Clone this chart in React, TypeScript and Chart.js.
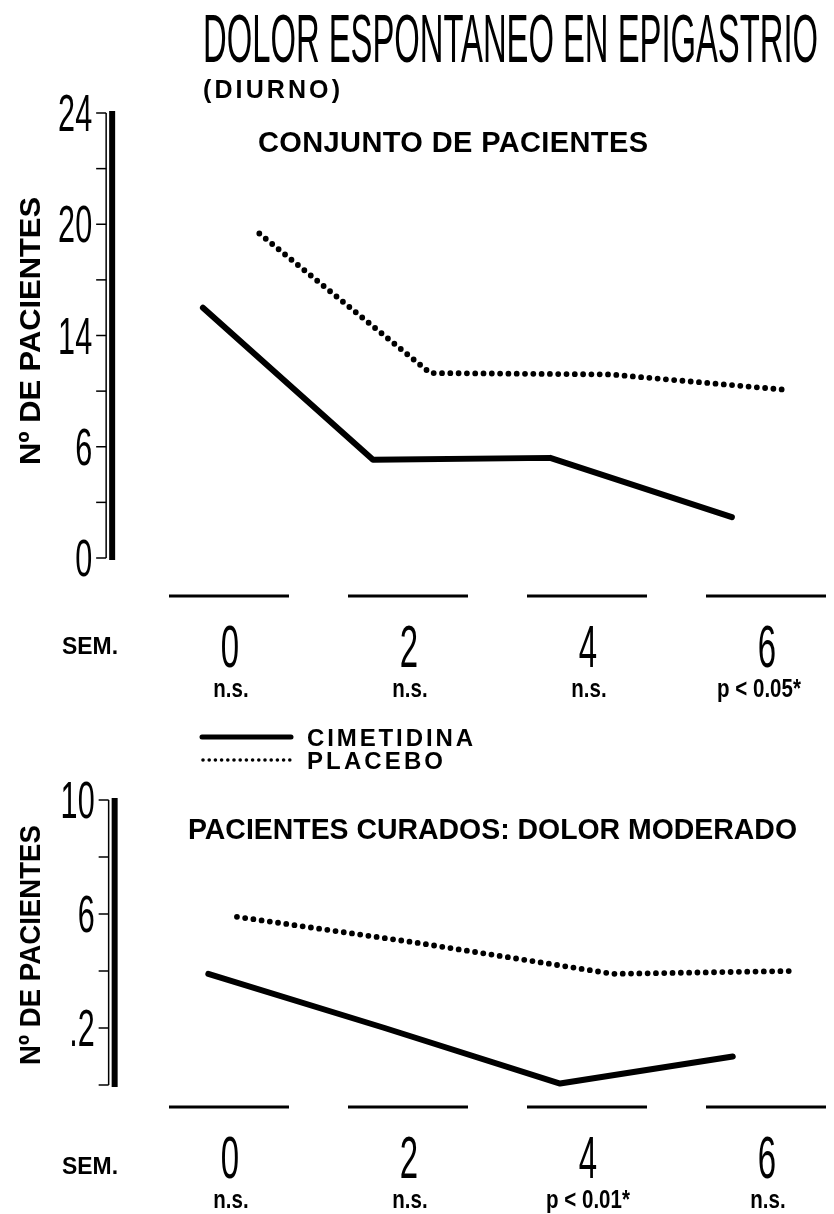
import { useEffect, useRef } from 'react';
import { Chart, registerables } from 'chart.js';

Chart.register(...registerables);

// ---------- data ----------
const WEEKS = [0, 2, 4, 6];
const WEEK_LABELS = ['0', '2', '4', '6'];
const TOP_SIGNIF = ['n.s.', 'n.s.', 'n.s.', 'p < 0.05*'];
const BOTTOM_SIGNIF = ['n.s.', 'n.s.', 'p < 0.01*', 'n.s.'];

// top panel: printed y labels (non-uniform), placed on every second tick
const TOP_Y_LABEL_VALUES = [0, 6, 14, 20, 24];
// bottom panel: tick values and the labels printed on some of them
const BOTTOM_Y_TICKS = [0, 2, 4, 6, 8, 10];
const BOTTOM_Y_LABEL_VALUES = [2, 6, 10];
const BOTTOM_Y_LABELS = ['.2', '6', '10'];

// Conjunto de pacientes (x = plotted week position, y = nº de pacientes)
const TOP_CIMETIDINA_X = [-0.28, 1.62, 3.6, 5.63];
const TOP_CIMETIDINA = [15.5, 5.3, 5.4, 2.2];
const TOP_PLACEBO_X = [0.35, 2.26, 4.27, 6.22];
const TOP_PLACEBO = [19.5, 11.3, 11.2, 10.1];

// Pacientes curados: dolor moderado
const BOTTOM_CIMETIDINA_X = [-0.22, 1.75, 3.71, 5.64];
const BOTTOM_CIMETIDINA = [3.9, 2.0, 0.05, 1.0];
const BOTTOM_PLACEBO_X = [0.1, 2.09, 4.3, 6.31];
const BOTTOM_PLACEBO = [5.9, 5.0, 3.9, 4.0];

const SERIES_NAMES = ['CIMETIDINA', 'PLACEBO'];

// ---------- helpers ----------
const FAMILY = '"Liberation Sans", Arial, "DejaVu Sans", sans-serif';

function topPos(v: number): number {
  const vals = TOP_Y_LABEL_VALUES;
  for (let i = 0; i < vals.length - 1; i++) {
    if (v <= vals[i + 1]) {
      return 2 * i + (2 * (v - vals[i])) / (vals[i + 1] - vals[i]);
    }
  }
  return 2 * (vals.length - 1);
}

type TxtOpt = {
  size: number;
  weight?: string;
  width?: number;
  sx?: number;
  align?: 'left' | 'center' | 'right';
  spacing?: boolean;
};

function drawText(ctx: CanvasRenderingContext2D, text: string, x: number, baseline: number, o: TxtOpt) {
  ctx.save();
  ctx.font = `${o.weight || 'normal'} ${o.size}px ${FAMILY}`;
  ctx.textAlign = 'left';
  ctx.textBaseline = 'alphabetic';
  ctx.fillStyle = '#000';
  const w = ctx.measureText(text).width;
  let sx = o.sx ?? 1;
  let sp = 0;
  if (o.width) {
    if (o.spacing && o.width > w && text.length > 1) sp = (o.width - w) / (text.length - 1);
    else sx = o.width / w;
  }
  const drawn = w * sx + sp * (text.length - 1);
  let left = x;
  if (o.align === 'center') left = x - drawn / 2;
  else if (o.align === 'right') left = x - drawn;
  if (sp) {
    (ctx as any).letterSpacing = `${sp}px`;
  }
  ctx.translate(left, baseline);
  ctx.scale(sx, 1);
  ctx.fillText(text, 0, 0);
  ctx.restore();
}

function drawDotted(ctx: CanvasRenderingContext2D, x1: number, x2: number, y: number, width: number, gap: number) {
  ctx.save();
  ctx.strokeStyle = '#000';
  ctx.lineWidth = width;
  ctx.lineCap = 'round';
  ctx.setLineDash([0, gap]);
  ctx.beginPath();
  ctx.moveTo(x1, y);
  ctx.lineTo(x2, y);
  ctx.stroke();
  ctx.restore();
}

type PanelCfg = {
  axisDx: number;
  tickPositions: number[];
  labelPositions: number[];
  labels: string[];
  yTitleCenter: number;
  yTitleLength: number;
  segY: number;
  weekBaseline: number;
  semBaseline: number;
  signifBaseline: number;
  signif: string[];
  signifDx: number[];
  extra: (ctx: CanvasRenderingContext2D) => void;
};

function panelPlugin(cfg: PanelCfg) {
  return {
    id: 'panelDecor',
    afterDraw(chart: any) {
      const ctx: CanvasRenderingContext2D = chart.ctx;
      const xs = chart.scales.x;
      const ys = chart.scales.y;
      const axX = chart.chartArea.left + cfg.axisDx;
      const yTop = ys.getPixelForValue(ys.max);
      const yBot = ys.getPixelForValue(ys.min);
      ctx.save();
      ctx.strokeStyle = '#000';
      ctx.lineCap = 'butt';
      // thick axis bar
      ctx.lineWidth = 6;
      ctx.beginPath();
      ctx.moveTo(axX, yTop - 2);
      ctx.lineTo(axX, yBot + 2);
      ctx.stroke();
      // thin companion line
      ctx.lineWidth = 1.5;
      ctx.beginPath();
      ctx.moveTo(axX - 6, yTop);
      ctx.lineTo(axX - 6, yBot);
      ctx.stroke();
      // ticks
      ctx.lineWidth = 1.5;
      for (const p of cfg.tickPositions) {
        const py = ys.getPixelForValue(p);
        ctx.beginPath();
        ctx.moveTo(axX - 16, py);
        ctx.lineTo(axX - 6, py);
        ctx.stroke();
      }
      // baseline segments under each week
      ctx.lineWidth = 3;
      for (const w of WEEKS) {
        const px = xs.getPixelForValue(w);
        ctx.beginPath();
        ctx.moveTo(px - 59, cfg.segY);
        ctx.lineTo(px + 61, cfg.segY);
        ctx.stroke();
      }
      ctx.restore();

      // y tick labels (condensed)
      cfg.labelPositions.forEach((p, i) => {
        const py = ys.getPixelForValue(p);
        drawText(ctx, cfg.labels[i], axX - 20, py + 18, { size: 51, sx: 0.6, align: 'right' });
      });

      // y title
      ctx.save();
      ctx.translate(29, cfg.yTitleCenter);
      ctx.rotate(-Math.PI / 2);
      drawText(ctx, 'Nº DE PACIENTES', 0, 11, { size: 30, weight: 'bold', width: cfg.yTitleLength, align: 'center' });
      ctx.restore();

      // week labels and significance
      WEEKS.forEach((w, i) => {
        const px = xs.getPixelForValue(w);
        drawText(ctx, WEEK_LABELS[i], px + 2, cfg.weekBaseline, { size: 60, sx: 0.55, align: 'center' });
        drawText(ctx, cfg.signif[i], px + cfg.signifDx[i], cfg.signifBaseline, {
          size: 25,
          weight: 'bold',
          sx: 0.82,
          align: 'center',
        });
      });
      drawText(ctx, 'SEM.', 62, cfg.semBaseline, { size: 23, weight: 'bold', width: 56 });
      cfg.extra(ctx);
    },
  };
}

function lineDatasets(cx: number[], cy: number[], px: number[], py: number[], f: (v: number) => number) {
  return [
    {
      label: SERIES_NAMES[0],
      data: cx.map((x, i) => ({ x, y: f(cy[i]) })),
      borderColor: '#000',
      borderWidth: 6,
      borderCapStyle: 'round' as const,
      borderJoinStyle: 'round' as const,
      pointRadius: 0,
      tension: 0,
      clip: false as any,
    },
    {
      label: SERIES_NAMES[1],
      data: px.map((x, i) => ({ x, y: f(py[i]) })),
      borderColor: '#000',
      borderWidth: 5.8,
      borderDash: [0, 8.3],
      borderCapStyle: 'round' as const,
      borderJoinStyle: 'round' as const,
      pointRadius: 0,
      tension: 0,
      clip: false as any,
    },
  ];
}

const X_MIN = -1.3;
const X_MAX = 6.6;

function baseOptions(yMin: number, yMax: number, pad: { left: number; right: number; top: number; bottom: number }) {
  return {
    animation: false as const,
    responsive: false,
    events: [] as any[],
    layout: { padding: pad },
    plugins: { legend: { display: false }, title: { display: false }, tooltip: { enabled: false } },
    scales: {
      x: { type: 'linear' as const, min: X_MIN, max: X_MAX, display: false },
      y: { type: 'linear' as const, min: yMin, max: yMax, display: false },
    },
  };
}

export default function App() {
  const topRef = useRef<HTMLCanvasElement>(null);
  const botRef = useRef<HTMLCanvasElement>(null);

  useEffect(() => {
    const pad = { left: 111.65, right: 15.3 };

    const topChart = new Chart(topRef.current!, {
      type: 'line',
      data: {
        datasets: lineDatasets(TOP_CIMETIDINA_X, TOP_CIMETIDINA, TOP_PLACEBO_X, TOP_PLACEBO, topPos) as any,
      },
      options: baseOptions(0, 2 * (TOP_Y_LABEL_VALUES.length - 1), { ...pad, top: 113, bottom: 162 }) as any,
      plugins: [
        panelPlugin({
          axisDx: 0.5,
          tickPositions: [0, 1, 2, 3, 4, 5, 6, 7, 8],
          labelPositions: TOP_Y_LABEL_VALUES.map((_, i) => 2 * i),
          labels: TOP_Y_LABEL_VALUES.map(String),
          yTitleCenter: 331,
          yTitleLength: 268,
          segY: 596,
          weekBaseline: 667,
          semBaseline: 654,
          signifBaseline: 697,
          signif: TOP_SIGNIF,
          signifDx: [3, 3, 3, -6],
          extra: (ctx) => {
            drawText(ctx, 'DOLOR ESPONTANEO EN EPIGASTRIO', 203, 62, { size: 68, width: 615 });
            drawText(ctx, '(DIURNO)', 203, 98, { size: 25, weight: 'bold', width: 137, spacing: true });
            drawText(ctx, 'CONJUNTO DE PACIENTES', 258, 152, { size: 29, weight: 'bold', width: 390, spacing: true });
          },
        }),
      ],
    });

    const botChart = new Chart(botRef.current!, {
      type: 'line',
      data: {
        datasets: lineDatasets(
          BOTTOM_CIMETIDINA_X,
          BOTTOM_CIMETIDINA,
          BOTTOM_PLACEBO_X,
          BOTTOM_PLACEBO,
          (v) => v
        ) as any,
      },
      options: baseOptions(BOTTOM_Y_TICKS[0], BOTTOM_Y_TICKS[BOTTOM_Y_TICKS.length - 1], {
        ...pad,
        top: 80,
        bottom: 129,
      }) as any,
      plugins: [
        panelPlugin({
          axisDx: 3,
          tickPositions: BOTTOM_Y_TICKS,
          labelPositions: BOTTOM_Y_LABEL_VALUES,
          labels: BOTTOM_Y_LABELS,
          yTitleCenter: 225,
          yTitleLength: 240,
          segY: 387,
          weekBaseline: 458,
          semBaseline: 454,
          signifBaseline: 488,
          signif: BOTTOM_SIGNIF,
          signifDx: [3, 3, 2, 3],
          extra: (ctx) => {
            // legend
            ctx.save();
            ctx.strokeStyle = '#000';
            ctx.lineWidth = 5;
            ctx.lineCap = 'round';
            ctx.beginPath();
            ctx.moveTo(202, 17);
            ctx.lineTo(291, 17);
            ctx.stroke();
            ctx.restore();
            drawDotted(ctx, 203, 292, 40, 3.6, 6.2);
            drawText(ctx, SERIES_NAMES[0], 307, 26, { size: 24, weight: 'bold', width: 166, spacing: true });
            drawText(ctx, SERIES_NAMES[1], 307, 49, { size: 24, weight: 'bold', width: 136, spacing: true });
            drawText(ctx, 'PACIENTES CURADOS: DOLOR MODERADO', 188, 119, {
              size: 29,
              weight: 'bold',
              width: 609,
              spacing: true,
            });
          },
        }),
      ],
    });

    return () => {
      topChart.destroy();
      botChart.destroy();
    };
  }, []);

  return (
    <div style={{ position: 'absolute', left: 0, top: 0, width: 834, height: 1214, background: '#fff' }}>
      <canvas ref={topRef} width={834} height={720} style={{ position: 'absolute', left: 0, top: 0 }} />
      <canvas ref={botRef} width={834} height={494} style={{ position: 'absolute', left: 0, top: 720 }} />
    </div>
  );
}
